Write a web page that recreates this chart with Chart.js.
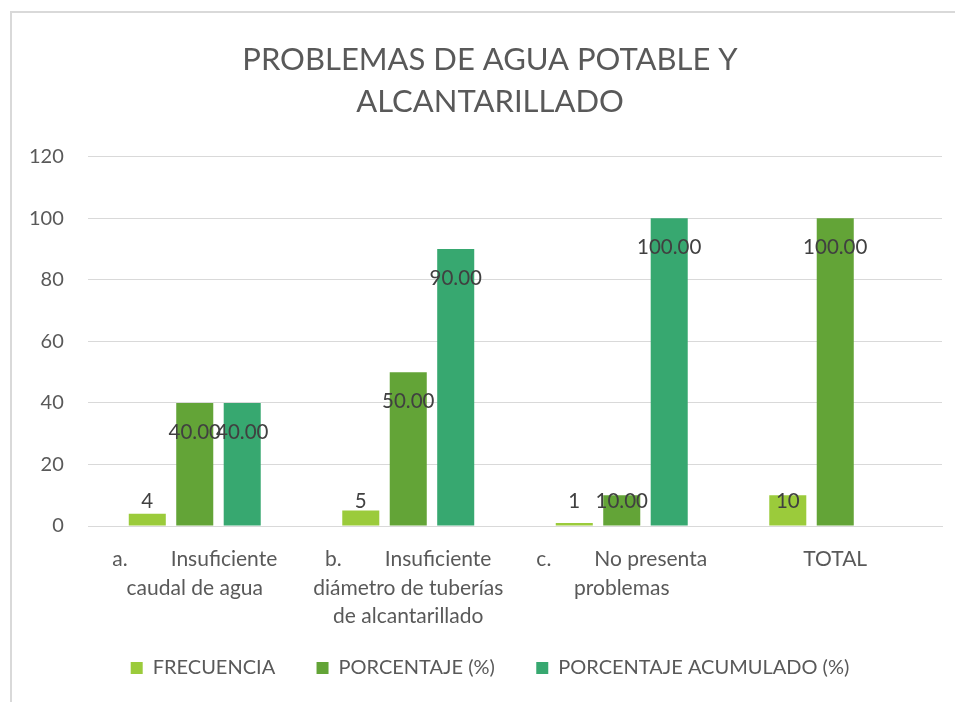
<!DOCTYPE html>
<html>
<head>
<meta charset="utf-8">
<script src="https://cdn.jsdelivr.net/npm/chart.js@4/dist/chart.umd.min.js"></script>
<style>
    html, body { margin: 0; padding: 0; background: #fff; }
    #wrap { position: relative; width: 955px; height: 702px; }
    #frame { position: absolute; left: 10px; top: 11px; width: 960px; height: 700px;
        border-left: 2px solid #d9d9d9; border-top: 2px solid #d9d9d9; pointer-events: none; }
</style>
</head>
<body>
<div id="wrap">
    <canvas id="myChart" width="955" height="702"></canvas>
    <div id="frame"></div>
</div>
<script>
// datos del grafico
const categorias = [
    ['a.        Insuficiente', 'caudal de agua'],
    ['b.        Insuficiente', 'diámetro de tuberías', 'de alcantarillado'],
    ['c.        No presenta', 'problemas'],
    'TOTAL'
];
const frecuencia = [4, 5, 1, 10];
const porcentaje = [40, 50, 10, 100];
const acumulado = [40, 90, 100, null];
const ticksY = [0, 20, 40, 60, 80, 100, 120];

const fuente = "Lato, 'Open Sans', sans-serif";

// etiquetas de datos (estilo Excel, dentro del extremo)
const etiquetas = {
    id: 'etiquetas',
    afterDatasetsDraw(chart) {
        const ctx = chart.ctx;
        ctx.save();
        ctx.font = '20.5px ' + fuente;
        ctx.fillStyle = '#404040';
        ctx.textAlign = 'center';
        ctx.textBaseline = 'middle';
        chart.data.datasets.forEach(function (ds, i) {
            const meta = chart.getDatasetMeta(i);
            meta.data.forEach(function (bar, j) {
                const v = ds.data[j];
                if (v === null || v === undefined) return;
                const txt = i === 0 ? String(v) : v.toFixed(2);
                const y = Math.min(bar.y + 29, bar.base - 24);
                ctx.fillText(txt, bar.x, y);
            });
        });
        ctx.restore();
    }
};

const data = {
    labels: categorias,
    datasets: [{
        label: 'FRECUENCIA',
        data: frecuencia,
        backgroundColor: '#9bcb3b'
    }, {
        label: 'PORCENTAJE (%)',
        data: porcentaje,
        backgroundColor: '#63a437'
    }, {
        label: 'PORCENTAJE ACUMULADO (%)',
        data: acumulado,
        backgroundColor: '#37a870'
    }]
};

const config = {
    type: 'bar',
    data: data,
    options: {
        responsive: false,
        animation: false,
        categoryPercentage: 0.667,
        barPercentage: 0.78,
        layout: { padding: { left: 38, right: 13, top: 0, bottom: 20 } },
        plugins: {
            title: {
                display: true,
                text: ['PROBLEMAS DE AGUA POTABLE Y', 'ALCANTARILLADO'],
                color: '#595959',
                font: { family: fuente, size: 31, weight: 'normal', lineHeight: 1.35 },
                padding: { top: 39, bottom: 34 }
            },
            legend: {
                position: 'bottom',
                maxHeight: 50,
                labels: {
                    color: '#595959',
                    font: { family: fuente, size: 20 },
                    boxWidth: 12,
                    boxHeight: 12,
                    padding: 26,
                    generateLabels: function (chart) {
                        var items = Chart.defaults.plugins.legend.labels.generateLabels(chart);
                        for (var i = 0; i < items.length - 1; i++) {
                            items[i].text += '   ';
                        }
                        return items;
                    }
                }
            },
            tooltip: { enabled: false }
        },
        scales: {
            x: {
                afterFit: function (scale) { scale.height = 106; },
                grid: { display: false },
                border: { color: '#d9d9d9' },
                ticks: {
                    color: '#595959',
                    font: { family: fuente, size: 21, lineHeight: 1.357 },
                    maxRotation: 0,
                    autoSkip: false,
                    padding: 11
                }
            },
            y: {
                min: 0,
                max: 120,
                afterFit: function (scale) { scale.width = 50; },
                afterBuildTicks: function (scale) {
                    scale.ticks = ticksY.map(function (v) { return { value: v }; });
                },
                grid: { color: '#d9d9d9', drawTicks: false },
                border: { display: false },
                ticks: {
                    color: '#595959',
                    font: { family: fuente, size: 20 },
                    mirror: true,
                    crossAlign: 'far',
                    padding: -59
                }
            }
        }
    },
    plugins: [etiquetas]
};

const myChart = new Chart(document.getElementById('myChart'), config);
</script>
</body>
</html>
